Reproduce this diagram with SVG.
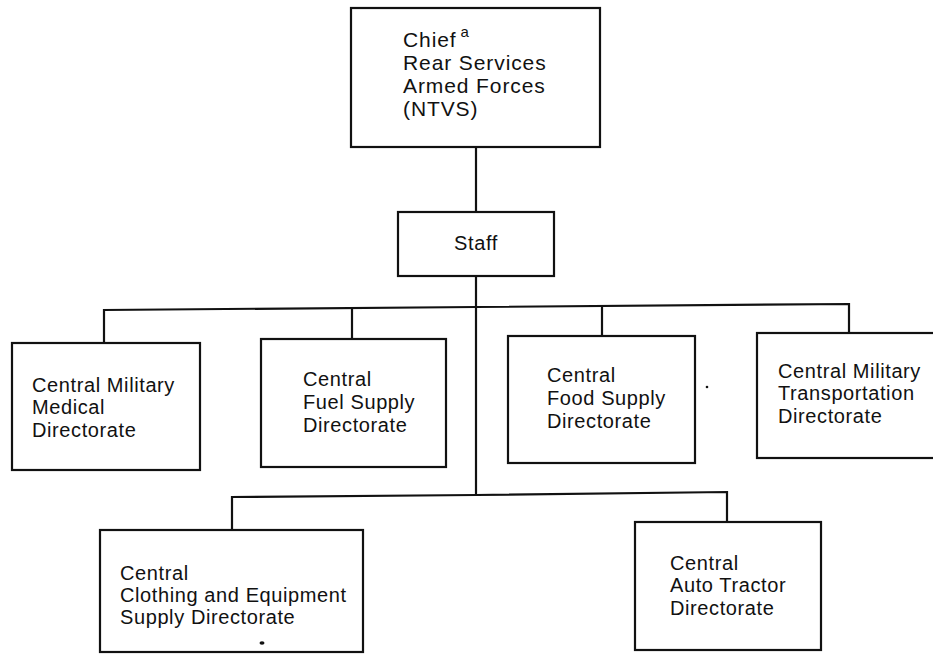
<svg xmlns="http://www.w3.org/2000/svg" width="933" height="654" viewBox="0 0 933 654">
<style>
.box{fill:#fff;stroke:#111;stroke-width:2.2}
.ln{fill:none;stroke:#111;stroke-width:2.2}
text{font-family:"Liberation Sans",Arial,sans-serif;font-size:20px;letter-spacing:0.6px;fill:#111}
.big{font-size:21px;letter-spacing:0.9px}
</style>
<rect width="933" height="654" fill="#fff"/>
<g id="connectors">
<path class="ln" d="M476 147 V212"/>
<path class="ln" d="M476 276 V495"/>
<path class="ln" d="M104 343 V310 L476 307 L849 304 V333"/>
<path class="ln" d="M352 339 V309"/>
<path class="ln" d="M602 336 V306"/>
<path class="ln" d="M232 530 V497 L476 495 L727 492 V522"/>
</g>
<g id="chief">
<rect class="box" x="351" y="8" width="249" height="139"/>
<text class="big" x="403" y="47">Chief<tspan font-size="15" dy="-10" dx="4">a</tspan></text>
<text class="big" x="403" y="70">Rear Services</text>
<text class="big" x="403" y="93">Armed Forces</text>
<text class="big" x="403" y="116">(NTVS)</text>
</g>
<g id="staff">
<rect class="box" x="398" y="212" width="156" height="64"/>
<text x="476" y="250" text-anchor="middle">Staff</text>
</g>
<g id="medical">
<rect class="box" x="12" y="343" width="188" height="127"/>
<text x="32" y="392">Central Military</text>
<text x="32" y="414">Medical</text>
<text x="32" y="437">Directorate</text>
</g>
<g id="fuel">
<rect class="box" x="261" y="339" width="185" height="128"/>
<text x="303" y="386">Central</text>
<text x="303" y="409">Fuel Supply</text>
<text x="303" y="432">Directorate</text>
</g>
<g id="food">
<rect class="box" x="508" y="336" width="187" height="127"/>
<text x="547" y="382">Central</text>
<text x="547" y="405">Food Supply</text>
<text x="547" y="428">Directorate</text>
<circle cx="707" cy="387" r="1.3" fill="#111"/>
</g>
<g id="transport">
<rect class="box" x="757" y="333" width="190" height="125"/>
<text x="778" y="378">Central Military</text>
<text x="778" y="400">Transportation</text>
<text x="778" y="423">Directorate</text>
</g>
<g id="clothing">
<rect class="box" x="100" y="530" width="263" height="122"/>
<text x="120" y="580">Central</text>
<text x="120" y="602">Clothing and Equipment</text>
<text x="120" y="624">Supply Directorate</text>
<ellipse cx="262" cy="643" rx="2.5" ry="1.8" fill="#111"/>
</g>
<g id="autotractor">
<rect class="box" x="635" y="522" width="186" height="128"/>
<text x="670" y="570">Central</text>
<text x="670" y="592">Auto Tractor</text>
<text x="670" y="615">Directorate</text>
</g>
</svg>
